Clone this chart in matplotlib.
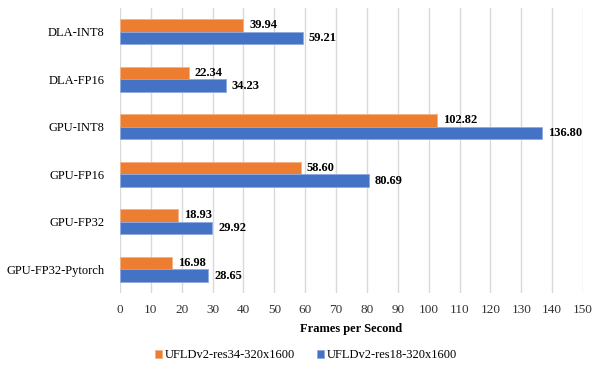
import matplotlib
matplotlib.use("Agg")
import matplotlib.pyplot as plt
import numpy as np

categories = ["GPU-FP32-Pytorch", "GPU-FP32", "GPU-FP16", "GPU-INT8", "DLA-FP16", "DLA-INT8"]
res34 = [16.98, 18.93, 58.60, 102.82, 22.34, 39.94]
res18 = [28.65, 29.92, 80.69, 136.80, 34.23, 59.21]
series_names = ["UFLDv2-res34-320x1600", "UFLDv2-res18-320x1600"]
xticks = list(range(0, 151, 10))

plt.rcParams['font.family'] = ['Liberation Serif', 'DejaVu Serif']

fig = plt.figure(figsize=(5.93, 3.66), dpi=100)
ax = fig.add_axes([120/593, 1-293/366, (583-120)/593, 285/366])

y = np.arange(len(categories))
h = 0.265
c_or = '#ED7D31'
c_bl = '#4472C4'
b1 = ax.barh(y + h/2, res34, height=h, color=c_or, edgecolor='#f5b184', linewidth=0.6, label=series_names[0], zorder=3)
b2 = ax.barh(y - h/2, res18, height=h, color=c_bl, edgecolor='#8fabe0', linewidth=0.6, label=series_names[1], zorder=3)

for bars, vals in ((b1, res34), (b2, res18)):
    for rect, v in zip(bars, vals):
        ax.text(v + 1.9, rect.get_y() + rect.get_height()/2, f"{v:.2f}", ha='left', va='center',
                fontsize=9, fontweight='bold', color='black', zorder=4)

ax.set_xlim(0, 150)
ax.set_ylim(-0.5, len(categories) - 0.5)
ax.set_xticks(xticks)
ax.set_xticklabels([str(t) for t in xticks], fontsize=9.5, color='#333333')
ax.set_yticks(y)
ax.set_yticklabels(categories, fontsize=9, color='black')
ax.tick_params(axis='x', length=0, pad=8)
ax.tick_params(axis='y', length=0, pad=11)
ax.grid(axis='x', color='#d9d9d9', linewidth=1, zorder=0)
for s in ax.spines.values():
    s.set_visible(False)
ax.set_xlabel("Frames per Second", fontsize=9, fontweight='bold', labelpad=5)

handles = [b1, b2]
fig.legend(handles, series_names, loc='center', bbox_to_anchor=(306/593, 1-355/366), ncol=2,
           frameon=False, fontsize=9, handlelength=0.6, handleheight=0.6, columnspacing=1.7,
           handletextpad=0.25, borderpad=0, borderaxespad=0)

fig.savefig("out.png", dpi=100)
